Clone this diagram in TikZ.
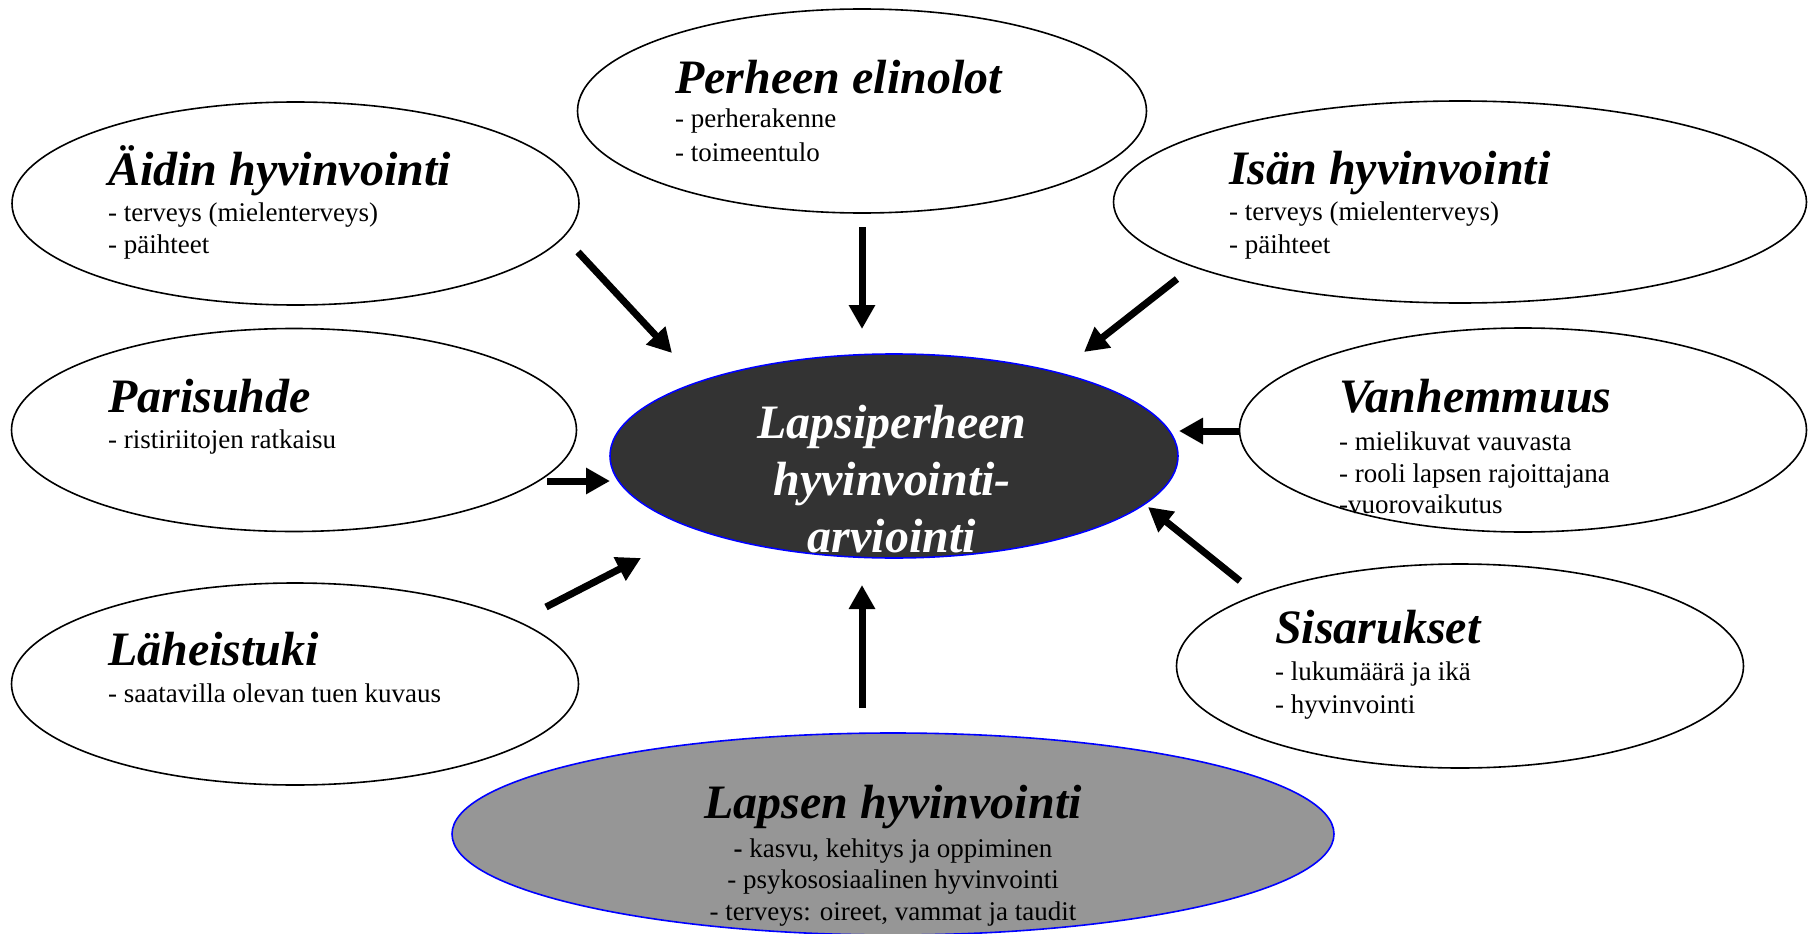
\documentclass[tikz,border=0pt]{standalone}
\usepackage{fontspec}
\setmainfont{Liberation Serif}
\usetikzlibrary{shapes.geometric,arrows.meta}
\definecolor{darkfill}{HTML}{333333}
\definecolor{midfill}{HTML}{969696}
\tikzset{
  bubble/.style={ellipse, draw=black, line width=1.6pt, fill=white, inner sep=0pt},
  hubble/.style={ellipse, draw=blue, line width=1.6pt, inner sep=0pt},
  ttl/.style={font=\fontsize{48}{55}\selectfont\bfseries\itshape, anchor=base west, inner sep=0pt},
  ttlc/.style={font=\fontsize{48}{55}\selectfont\bfseries\itshape, anchor=base, inner sep=0pt},
  bodytxt/.style={font=\fontsize{27}{31}\selectfont, anchor=base west, inner sep=0pt},
  bodyc/.style={font=\fontsize{27}{31}\selectfont, anchor=base, inner sep=0pt},
  arr/.style={line width=7pt, -{Triangle[length=24pt,width=25pt]}}
}
\begin{document}
\begin{tikzpicture}[x=1pt,y=-1pt]
\useasboundingbox (0,0) rectangle (1816,934);
% ellipses
\node[bubble, minimum width=567pt, minimum height=203pt] (aidin) at (295.5,203.5) {};
\node[bubble, minimum width=569pt, minimum height=204pt] (perhe) at (862,111) {};
\node[bubble, minimum width=693pt, minimum height=202pt] (isa) at (1460,202) {};
\node[bubble, minimum width=565pt, minimum height=203pt] (pari) at (294,430) {};
\node[bubble, minimum width=567pt, minimum height=204pt] (vanh) at (1523,430) {};
\node[bubble, minimum width=567pt, minimum height=202pt] (lahe) at (295,684) {};
\node[bubble, minimum width=567pt, minimum height=204pt] (sisar) at (1460,666) {};
\node[hubble, fill=darkfill, minimum width=568pt, minimum height=204pt] (keski) at (894,456) {};
\node[hubble, fill=midfill, minimum width=882pt, minimum height=202pt] (lapsi) at (893,834) {};
% texts
\node[ttl] (aidinT) at (108,185) {Äidin hyvinvointi};
\node[bodytxt] (aidinB1) at (108,221) {- terveys (mielenterveys)};
\node[bodytxt] (aidinB2) at (108,253) {- päihteet};
\node[ttl] (perheT) at (675,93) {Perheen elinolot};
\node[bodytxt] (perheB1) at (675,128) {- perherakenne};
\node[bodytxt] (perheB2) at (675,161) {- toimeentulo};
\node[ttl] (isaT) at (1229,184) {Isän hyvinvointi};
\node[bodytxt] (isaB1) at (1229,220) {- terveys (mielenterveys)};
\node[bodytxt] (isaB2) at (1229,253) {- päihteet};
\node[ttl] (pariT) at (108,412) {Parisuhde};
\node[bodytxt] (pariB1) at (108,448) {- ristiriitojen ratkaisu};
\node[ttl] (vanhT) at (1339,412) {Vanhemmuus};
\node[bodytxt] (vanhB1) at (1339,450) {- mielikuvat vauvasta};
\node[bodytxt] (vanhB2) at (1339,482) {- rooli lapsen rajoittajana};
\node[bodytxt] (vanhB3) at (1339,513) {-vuorovaikutus};
\node[ttl] (sisarT) at (1275,643) {Sisarukset};
\node[bodytxt] (sisarB1) at (1275,680) {- lukumäärä ja ikä};
\node[bodytxt] (sisarB2) at (1275,713) {- hyvinvointi};
\node[ttl] (laheT) at (108,665) {Läheistuki};
\node[bodytxt] (laheB1) at (108,702) {- saatavilla olevan tuen kuvaus};
\node[ttlc, text=white] (keskiT1) at (892,438) {Lapsiperheen};
\node[ttlc, text=white] (keskiT2) at (892,495) {hyvinvointi-};
\node[ttlc, text=white] (keskiT3) at (892,552) {arviointi};
\node[ttlc] (lapsiT) at (893,818) {Lapsen hyvinvointi};
\node[bodyc] (lapsiB1) at (893,857) {\textbf{-} kasvu, kehitys ja oppiminen};
\node[bodyc] (lapsiB2) at (893,888) {- psykososiaalinen hyvinvointi};
\node[bodyc] (lapsiB3) at (893,920) {- terveys: oireet, vammat ja taudit};
% arrow ends
\coordinate (a1s) at (578,252); \coordinate (a1e) at (672,353);
\coordinate (a2s) at (862,227); \coordinate (a2e) at (862,329);
\coordinate (a3s) at (1177,279); \coordinate (a3e) at (1084,352);
\coordinate (a4s) at (1240,431); \coordinate (a4e) at (1179,431);
\coordinate (a5s) at (547,481); \coordinate (a5e) at (610,481);
\coordinate (a6s) at (546,607); \coordinate (a6e) at (641,558);
\coordinate (a7s) at (862,708); \coordinate (a7e) at (862,585);
\coordinate (a8s) at (1240,581); \coordinate (a8e) at (1148,507);
\draw[arr] (a1s) -- (a1e);
\draw[arr] (a2s) -- (a2e);
\draw[arr] (a3s) -- (a3e);
\draw[arr] (a4s) -- (a4e);
\draw[arr] (a5s) -- (a5e);
\draw[arr] (a6s) -- (a6e);
\draw[arr] (a7s) -- (a7e);
\draw[arr] (a8s) -- (a8e);
\end{tikzpicture}
\end{document}
